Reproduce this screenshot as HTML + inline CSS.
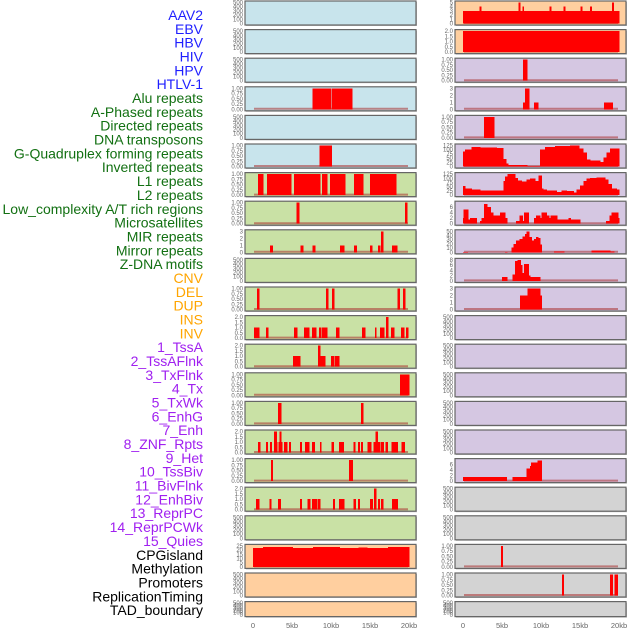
<!DOCTYPE html>
<html><head><meta charset="utf-8"><style>
html,body{margin:0;padding:0;background:#fff;}
svg{display:block;}
</style></head><body>
<svg id="chart" width="630" height="630" viewBox="0 0 630 630" xmlns="http://www.w3.org/2000/svg" font-family="Liberation Sans, sans-serif"></svg>
<script>
const trackNames = ["AAV2","EBV","HBV","HIV","HPV","HTLV-1","Alu repeats","A-Phased repeats","Directed repeats","DNA transposons","G-Quadruplex forming repeats","Inverted repeats","L1 repeats","L2 repeats","Low_complexity A/T rich regions","Microsatellites","MIR repeats","Mirror repeats","Z-DNA motifs","CNV","DEL","DUP","INS","INV","1_TssA","2_TssAFlnk","3_TxFlnk","4_Tx","5_TxWk","6_EnhG","7_Enh","8_ZNF_Rpts","9_Het","10_TssBiv","11_BivFlnk","12_EnhBiv","13_ReprPC","14_ReprPCWk","15_Quies","CPGisland","Methylation","Promoters","ReplicationTiming","TAD_boundary"];
const E = ["0","100","200","300","400","500"];
const U = ["0.00","0.25","0.50","0.75","1.00"];
const H = ["0.0","0.5","1.0","1.5","2.0"];
const T3 = ["0","1","2","3"];
const trackTicks = [E,E,E,U,E,U,U,U,T3,E,U,H,H,U,U,H,U,H,E,["0","5","10","15","20","25"],E,E,
  ["0","1","2","3","4","5"],H,U,T3,U,["0","25","50","75","100","125"],["0","25","50","75","100","125"],["0","2","4","6"],["0","10","20","30","40","50"],["0","2","4","6","8"],T3,E,E,E,E,E,["0","2","4","6"],E,E,U,U,E];
const trackMax = [500,500,500,1,500,1,1,1,3,500,1,2,2,1,1,2,1,2,500,25,500,500,
  5,2,1,3,1,125,125,7.5,50,8,3,500,500,500,500,500,7.5,500,500,1,1,500];
const xTickLabels = ["0","5kb","10kb","15kb","20kb"];
const xTickValues = [0,5,10,15,20];
const trackBars = [
 [],[],[],
 [[7.6,10.0,1],[10.1,12.7,1]],
 [],
 [[8.5,10.1,1]],
 [[0.64,1.28,1],[1.8,4.87,1],[5.26,8.6,1],[8.85,9.5,1],[9.87,11.8,1],[12.95,14.1,1],[15.0,18.33,1]],
 [[5.6,5.9,1],[19.5,19.75,1]],
 [[2.2,2.5,1],[6.1,6.4,1],[7.6,7.95,1],[11.15,11.7,1],[12.95,13.3,1],[15.0,15.3,1],[16.0,16.3,1],[16.4,16.7,3],[17.8,18.5,1]],
 [],
 [[0.5,0.8,1],[9.35,9.65,1],[10.1,10.4,1],[18.5,18.8,1],[19.2,19.5,1]],
 [[0.13,0.77,1],[1.67,1.92,1],[5.26,5.64,1],[6.54,7.18,1],[7.56,8.08,1],[8.46,8.72,1],[8.85,9.49,1],[10.64,11.03,1],[13.97,14.36,1],[15.64,15.77,1],[16.28,16.79,1],[17.05,17.31,2],[17.69,18.08,1],[18.97,19.36,1],[19.62,19.87,1]],
 [[5.13,6.03,1],[8.33,9.23,1],[8.33,8.6,2],[10.0,10.4,1],[10.5,11.03,1]],
 [[18.85,20.0,1]],
 [[3.2,3.6,1],[13.85,14.1,1]],
 [[0.64,0.9,1],[1.67,1.9,1],[2.18,2.4,1],[2.69,3.12,1],[2.69,3.0,2],[3.3,3.72,1],[3.4,3.6,2],[3.97,4.36,1],[4.62,4.83,1],[6.03,6.24,1],[6.67,6.92,1],[7.0,7.22,1],[7.56,7.91,1],[8.6,8.76,1],[10.09,10.35,1],[11.03,11.63,1],[12.91,13.12,1],[13.46,13.68,1],[13.85,14.06,1],[14.71,15.17,1],[15.47,16.24,1],[15.73,15.99,2],[16.37,16.76,1],[17.01,17.27,1],[17.78,18.55,1],[19.06,19.45,1]],
 [[2.3,2.5,1],[12.3,12.8,1]],
 [[0.38,0.77,1],[2.09,2.35,1],[3.2,3.55,1],[6.03,6.24,1],[6.97,7.3,1],[7.56,8.2,1],[8.33,8.6,1],[10.26,10.47,1],[11.03,11.67,1],[12.91,13.17,1],[13.46,13.68,1],[15.0,15.35,1],[15.51,15.77,2],[16.03,16.24,1],[16.41,16.67,1],[17.82,18.55,1]],
 [],
 [[0,1.3,22.5],[1.3,5.1,23.5],[5.1,7.7,22.5],[7.7,11.1,23.5],[11.1,13.5,22.5],[13.5,14.6,23],[14.6,17.3,22.5],[17.3,20,23.5]],
 [],[],
 [[0,20,3],[2.1,2.3,4],[7.1,7.3,5],[7.6,7.8,4],[11.1,11.3,4],[12.9,13.1,4],[15.05,15.25,4],[16.3,16.5,4],[19.1,19.3,5]],
 [[0,20,2]],
 [[7.7,8.2,1]],
 [[7.7,7.95,1],[7.95,8.5,3],[9.1,9.6,1],[18.1,19.2,1]],
 [[2.7,4.0,1]],
 [[0,0.26,88],[0.26,1.1,100],[1.1,2.18,115],[2.18,4.3,113],[4.3,5.17,110],[5.17,5.5,46],[5.5,5.8,18],[5.8,8.2,9],[8.2,9.87,4],[9.87,10.5,100],[10.5,11.8,115],[11.8,13.7,123],[13.7,14.9,125],[14.9,15.4,107],[15.4,15.86,83],[15.86,16.3,42],[16.3,17.56,37],[17.56,18,28],[18,18.4,55],[18.4,18.85,83],[18.85,20,107]],
 [[0,0.26,53],[0.26,1.11,40],[1.11,2.18,32],[2.18,3.46,26],[3.46,5.17,28],[5.17,5.38,85],[5.38,5.68,111],[5.68,6.67,125],[6.67,6.97,102],[6.97,7.52,88],[7.52,8.16,81],[8.16,8.59,93],[8.59,9.23,99],[9.23,9.66,85],[9.66,10.09,116],[10.09,10.3,40],[10.3,10.73,32],[10.73,12.0,26],[12.0,12.65,18],[12.65,13.29,26],[13.29,14.15,23],[14.15,14.57,14],[14.57,15.0,32],[15.0,15.43,58],[15.43,15.85,85],[15.85,16.28,99],[16.28,17.14,102],[17.14,18.2,106],[18.2,18.63,93],[18.63,19.06,67],[19.06,19.7,40],[19.7,20,32]],
 [[0,0.04,2],[0.04,0.68,5],[0.68,0.9,1.5],[0.9,1.75,2],[2.18,2.39,1],[2.39,2.69,2],[2.69,3.12,7],[3.12,3.55,6],[3.55,3.89,4],[3.89,4.74,3],[4.74,5.38,4],[5.38,5.68,2],[6.79,7.22,1],[7.22,7.65,3],[7.65,7.82,1],[7.82,8.38,4],[9.1,9.36,2],[9.36,9.87,3],[9.87,10.09,2],[10.09,10.73,4],[10.73,11.07,3],[11.07,11.24,2],[11.24,12.09,3],[12.09,13.5,1.5],[13.5,13.8,2],[13.8,15.0,1.5],[18.33,18.76,1],[18.76,19.06,3],[19.06,19.91,4],[19.91,20,2]],
 [[0,0.56,1],[5.38,5.68,1],[6.24,6.45,12],[6.45,6.79,20],[6.79,7.22,28],[7.22,7.65,32],[7.65,7.95,38],[7.95,8.16,44],[8.16,8.5,50],[8.5,8.8,36],[8.8,9.1,28],[9.1,9.36,32],[9.36,9.66,36],[9.66,9.87,34],[9.87,10.09,18],[11.67,12.95,2],[16.5,18.85,4],[18.85,19.36,2]],
 [[5.0,5.68,1.5],[6.37,6.67,2.5],[6.67,6.97,7.5],[6.97,7.39,8],[7.39,7.6,6],[7.6,7.82,3],[7.82,8.38,6.5],[8.38,8.59,2],[8.59,9.87,1.5]],
 [[7.31,8.25,2],[8.25,9.87,3],[9.87,10.09,2]],
 [],[],[],[],[],
 [[0,5.6,1.4],[6.37,8.16,1.4],[8.16,8.59,4.5],[8.59,8.72,5.4],[8.72,9.57,6.6],[9.57,10.09,7.4]],
 [],[],
 [[4.9,5.1,1]],
 [[12.7,12.9,1],[18.85,19.2,1],[19.45,19.8,1]],
 []
];

const NS = "http://www.w3.org/2000/svg";
const svg = document.getElementById('chart');
function mk(tag, attrs, parent){ const e=document.createElementNS(NS,tag); for(const k in attrs) e.setAttribute(k,attrs[k]); (parent||svg).appendChild(e); return e; }

function groupColor(i){
  if(i<6) return "#1f1fff";
  if(i<19) return "#127012";
  if(i<24) return "#ffa500";
  if(i<39) return "#a020f0";
  return "#000000";
}
function bgColor(i){
  if(i<6) return "#c8e4ec";
  if(i<19) return "#c9e1a5";
  if(i<24) return "#ffcf9f";
  if(i<39) return "#d5c7e2";
  return "#d3d3d3";
}
trackNames.forEach((n,i)=>{
  const t = mk('text',{x:203,y:20+i*13.84,'text-anchor':'end','font-size':14,fill:groupColor(i)});
  t.textContent = n;
  
  
});

const colX = [245,455];
const zeroX = [253,463];
const PXKB = 7.8;
const PW = 171;
function xScale(col,kb){ return zeroX[col] + kb*PXKB; }

for(let i=0;i<trackNames.length;i++){
  const col = i<22?0:1, row = i%22;
  const top = 1 + row*28.6;
  const h = row===21 ? 15 : 24;
  const g = mk('g',{});
  
  
  mk('rect',{x:colX[col]+1,y:top+1,width:PW,height:h,fill:'#bbb'},g);
  mk('rect',{x:colX[col],y:top,width:PW,height:h,fill:bgColor(i),stroke:'#666','stroke-width':1.2},g);
  const pad=1.5, y0=top+h-pad, span=h-2*pad;
  const max = trackMax[i];
  function yScale(v){ return y0 - v/max*span; }
  trackTicks[i].forEach(tl=>{
    const v=parseFloat(tl);
    const tt = mk('text',{x:colX[col]-2,y:yScale(v)+2,'text-anchor':'end','font-size':6,fill:'#666'},g);
    tt.textContent = tl;
    
    
  });
  const bars = trackBars[i];
  if(bars.length){
    const bl = mk('line',{x1:xScale(col,0)+1,x2:xScale(col,20)-1,y1:y0-0.5,y2:y0-0.5,stroke:'rgba(170,50,50,0.55)','stroke-width':2},g);
    
    
  }
  bars.forEach(b=>{
    const x1=xScale(col,b[0]), x2=xScale(col,b[1]);
    const yv=yScale(b[2]);
    const r = mk('rect',{x:x1,y:yv,width:Math.max(1.2,x2-x1+0.4),height:y0-yv,fill:'#ff0000','shape-rendering':'crispEdges'},g);
    
    
  });
}
[0,1].forEach(col=>{
  xTickValues.forEach((v,k)=>{
    const t = mk('text',{x:xScale(col,v),y:628,'text-anchor':'middle','font-size':7.5,fill:'#666'});
    t.textContent = xTickLabels[k];
    
    
  });
});
</script>
</body></html>
